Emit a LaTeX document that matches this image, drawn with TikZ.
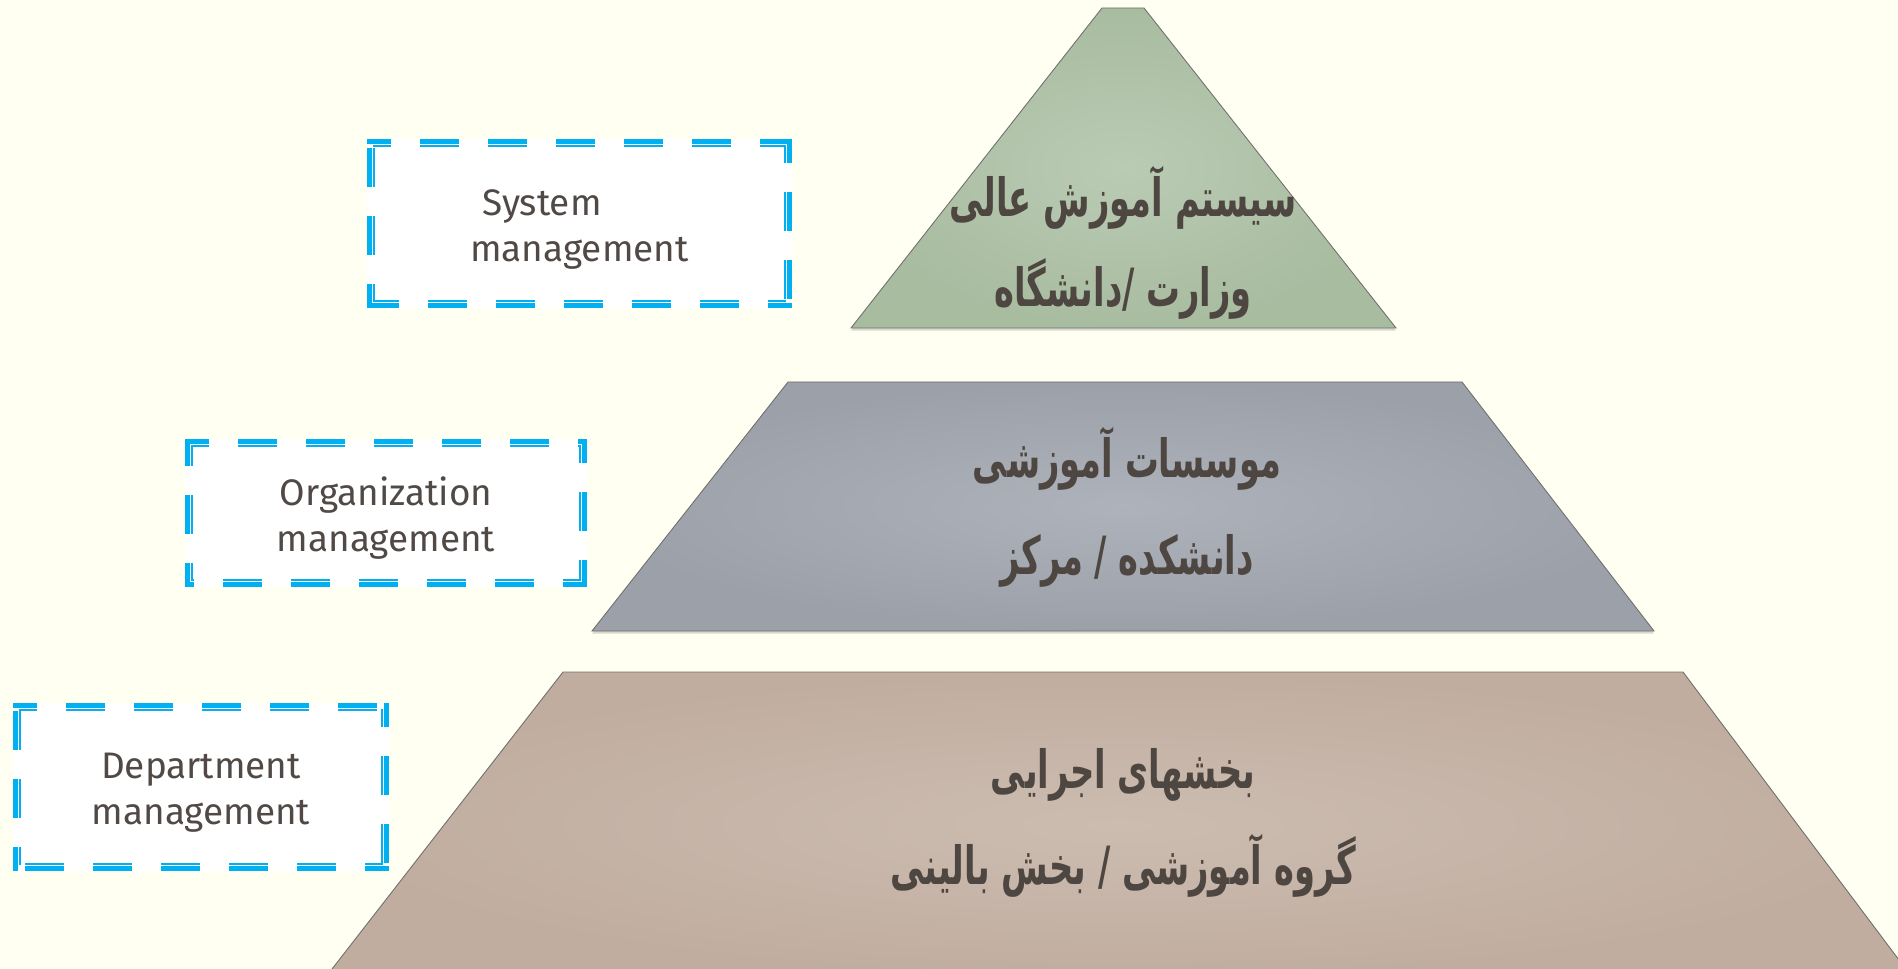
\documentclass[tikz,border=0pt]{standalone}
\usepackage{fontspec}
\setmainfont{Fira Sans}
\newfontfamily\arabicfont[Script=Arabic,FakeStretch=0.64]{DejaVu Sans}
\TeXXeTstate=1
\usetikzlibrary{shadows}

\definecolor{bgcream}{HTML}{FFFFF2}
\definecolor{dashblue}{HTML}{00B0F0}
\definecolor{labeltext}{HTML}{514945}
\definecolor{leveltextcol}{HTML}{4E4641}
\definecolor{levelline}{HTML}{6F6F6F}
\definecolor{topouter}{HTML}{A8BCA0}
\definecolor{topinner}{HTML}{BACBB4}
\definecolor{midouter}{HTML}{9CA0A9}
\definecolor{midinner}{HTML}{AEB2BA}
\definecolor{baseouter}{HTML}{C0ADA0}
\definecolor{baseinner}{HTML}{CCBCB0}

\begin{document}
\begin{tikzpicture}[
  mgmtbox/.style={rectangle, fill=white, inner sep=0pt},
  mgmtlabel/.style={align=center, text=labeltext, inner sep=0pt,
    font=\fontsize{21}{26}\selectfont},
  outerdash/.style={draw=dashblue, line width=1mm, line cap=rect,
    dash pattern=on 6.8mm off 6.8mm, dash phase=3mm},
  innerdash/.style={draw=dashblue, line width=0.4mm, line cap=rect,
    dash pattern=on 7.4mm off 6.2mm, dash phase=4.3mm},
  level/.style={draw=levelline, line width=0.5pt,
    drop shadow={shadow xshift=0pt, shadow yshift=-1.5pt, opacity=0.3}},
  leveltext/.style={align=center, text=leveltextcol,
    font=\arabicfont\bfseries\fontsize{30}{55}\selectfont}
]
% Canvas
\useasboundingbox (0,0) rectangle (37.96,19.36);
\fill[bgcream] (0,0) rectangle (37.96,19.36);
\clip (0,0) rectangle (37.96,19.36);

% Pyramid levels
\path[level, inner color=topinner, outer color=topouter]
  (17.02,12.80) -- (22.04,19.20) -- (22.88,19.20) -- (27.92,12.80) -- cycle;
\path[level, inner color=midinner, outer color=midouter]
  (11.84,6.74) -- (15.76,11.72) -- (29.24,11.72) -- (33.08,6.74) -- cycle;
\path[level, inner color=baseinner, outer color=baseouter]
  (6.50,-0.20) -- (11.26,5.92) -- (33.66,5.92) -- (38.25,-0.20) -- cycle;

% Level texts
\node[leveltext, font=\arabicfont\bfseries\fontsize{30}{51}\selectfont] (system) at (22.46,14.50)
  {\beginR سیستم آموزش عالی\endR\\\beginR وزارت /دانشگاه\endR};
\node[leveltext] (institute) at (22.54,9.21)
  {\beginR موسسات آموزشی\endR\\\beginR دانشکده / مرکز\endR};
\node[leveltext] (unit) at (22.46,2.90)
  {\beginR بخشهای اجرایی\endR\\\beginR گروه آموزشی / بخش بالینی\endR};

% Management boxes
\node[mgmtbox, minimum width=8.5cm, minimum height=3.38cm] (sysbox) at (11.59,14.89) {};
\node[mgmtbox, minimum width=8.04cm, minimum height=2.96cm] (orgbox) at (7.72,9.10) {};
\node[mgmtbox, minimum width=7.52cm, minimum height=3.36cm] (depbox) at (4.02,3.62) {};

\node[mgmtlabel] (syslabel) at ([yshift=-0.12cm]sysbox.center) {System\hspace*{1.5cm}\\management};
\node[mgmtlabel] (orglabel) at ([yshift=-0.1cm]orgbox.center) {Organization\\management};
\node[mgmtlabel] (deplabel) at ([yshift=-0.12cm]depbox.center) {Department\\management};

% Dashed double frames, side by side
\foreach \b in {sysbox,orgbox,depbox} {
  \path ([shift={(0.05,-0.05)}]\b.north west) coordinate (a1)
        ([shift={(-0.05,-0.05)}]\b.north east) coordinate (a2)
        ([shift={(-0.05,0.05)}]\b.south east) coordinate (a3)
        ([shift={(0.05,0.05)}]\b.south west) coordinate (a4)
        ([shift={(0.15,-0.15)}]\b.north west) coordinate (b1)
        ([shift={(-0.15,-0.15)}]\b.north east) coordinate (b2)
        ([shift={(-0.15,0.15)}]\b.south east) coordinate (b3)
        ([shift={(0.15,0.15)}]\b.south west) coordinate (b4);
  \foreach \p/\q in {1/2,2/3,3/4,4/1} {
    \draw[outerdash] (a\p) -- (a\q);
    \draw[innerdash] (b\p) -- (b\q);
  }
}
\end{tikzpicture}
\end{document}
